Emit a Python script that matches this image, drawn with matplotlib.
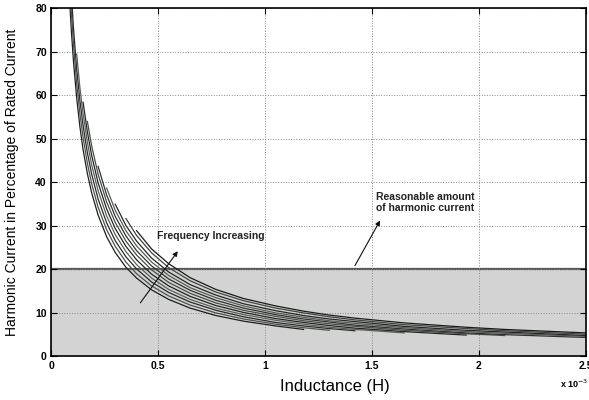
import numpy as np
import matplotlib
matplotlib.use("Agg")
import matplotlib.pyplot as plt
from matplotlib.ticker import FuncFormatter

plt.rcParams['font.family'] = ['Liberation Sans', 'DejaVu Sans']

# inductance grid (in mH, plotted as H)
L_mH = [0.088, 0.095, 0.105, 0.12, 0.135, 0.15, 0.17, 0.19, 0.22, 0.26, 0.30,
        0.35, 0.40, 0.47, 0.55, 0.65, 0.77, 0.9, 1.05, 1.18, 1.30, 1.42, 1.65,
        1.94, 2.12, 2.5]

# harmonic current (% of rated), one list per frequency
curve_1 = [80.9, 74.9, 67.8, 59.4, 52.8, 47.5, 42.0, 37.6, 32.5, 27.5, 23.9,
           20.5, 18.0, 15.3, 13.1, 11.1, 9.4, 8.1, 7.0, 6.2]
curve_2 = [85.5, 79.2, 71.7, 62.7, 55.8, 50.3, 44.4, 39.7, 34.3, 29.1, 25.3,
           21.7, 19.0, 16.2, 13.9, 11.8, 10.0, 8.6, 7.4, 6.6, 6.0]
curve_3 = [83.5, 75.5, 66.1, 58.8, 53.0, 46.8, 41.9, 36.2, 30.7, 26.6, 22.9,
           20.1, 17.1, 14.7, 12.5, 10.6, 9.1, 7.8, 7.0, 6.4, 5.9]
curve_4 = [69.5, 61.8, 55.7, 49.2, 44.0, 38.1, 32.3, 28.0, 24.1, 21.1, 18.0,
           15.4, 13.1, 11.1, 9.6, 8.3, 7.4, 6.7, 6.2, 5.4]
curve_5 = [58.4, 51.6, 46.2, 39.9, 33.9, 29.4, 25.3, 22.2, 18.9, 16.2, 13.8,
           11.7, 10.1, 8.7, 7.8, 7.1, 6.5, 5.7, 4.9]
curve_6 = [54.0, 48.4, 41.9, 35.5, 30.8, 26.5, 23.3, 19.9, 17.0, 14.5, 12.3,
           10.6, 9.2, 8.2, 7.5, 6.9, 6.0, 5.2, 4.8]
curve_7 = [43.7, 37.1, 32.2, 27.7, 24.3, 20.8, 17.8, 15.2, 12.9, 11.1, 9.6,
           8.6, 7.9, 7.2, 6.3, 5.4, 5.0, 4.35]
curve_8 = [38.7, 33.6, 28.9, 25.4, 21.7, 18.6, 15.8, 13.5, 11.6, 10.0, 9.0,
           8.2, 7.6, 6.6, 5.7, 5.3, 4.6]
curve_9 = [35.0, 30.1, 26.5, 22.6, 19.4, 16.5, 14.1, 12.1, 10.5, 9.4, 8.6,
           8.0, 6.9, 6.0, 5.6, 4.8]
curve_10 = [31.7, 27.8, 23.8, 20.4, 17.4, 14.8, 12.8, 11.1, 10.0, 9.1, 8.4,
            7.3, 6.4, 5.9, 5.1]
curve_11 = [28.9, 24.7, 21.3, 18.1, 15.4, 13.3, 11.6, 10.4, 9.5, 8.8, 7.7,
            6.7, 6.2, 5.4]

curves = [curve_1, curve_2, curve_3, curve_4, curve_5, curve_6, curve_7,
          curve_8, curve_9, curve_10, curve_11]
# index in L_mH where each curve begins
curve_start = [0, 0, 1, 3, 5, 6, 8, 9, 10, 11, 12]

line_colors = ['#1e1e1e', '#4b524b', '#2a2a2a', '#5a605a', '#222222',
               '#474d47', '#303030', '#555b55', '#262626', '#3f453f', '#1a1a1a']

fig = plt.figure(figsize=(5.89, 4.0), dpi=100)
ax = fig.add_axes([0.0866, 0.109, 0.9083, 0.87])

# acceptable zone
ax.axhspan(0, 20, facecolor='#d3d3d3', edgecolor='none', zorder=0.5)
ax.axhline(20, color='#555555', lw=1.6, zorder=0.6)

L_arr = np.array(L_mH) * 1e-3
for vals, s, c in zip(curves, curve_start, line_colors):
    ax.plot(L_arr[s:s + len(vals)], vals, color=c, lw=0.9, zorder=2)

ax.set_xlim(0, 2.5e-3)
ax.set_ylim(0, 80)
ax.set_xticks(np.arange(0, 2.51e-3, 0.5e-3))
ax.set_yticks(range(0, 81, 10))
ax.xaxis.set_major_formatter(FuncFormatter(lambda v, p: '%g' % round(v * 1e3, 3)))

ax.grid(True, linestyle=':', color='#8a8a8a', lw=0.7)
ax.tick_params(direction='in', length=4, width=0.8, top=True, right=True,
               labelsize=7.5, pad=3)
for lab in ax.get_xticklabels() + ax.get_yticklabels():
    lab.set_fontweight('bold')
for sp in ax.spines.values():
    sp.set_linewidth(1.2)

ax.set_xlabel('Inductance (H)', fontsize=12)
ax.xaxis.set_label_coords(0.53, -0.065)
ax.set_ylabel('Harmonic Current in Percentage of Rated Current', fontsize=10)
ax.yaxis.set_label_coords(-0.06, 0.5)
fig.text(0.951, 0.04, 'x 10$^{-3}$', fontsize=6.5, fontweight='bold',
         ha='left', va='center')

ax.annotate('', xy=(0.60e-3, 24.7), xytext=(0.41e-3, 11.8),
            arrowprops=dict(arrowstyle='-|>', color='#111111', lw=0.8,
                            mutation_scale=7))
ax.text(0.495e-3, 27.7, 'Frequency Increasing', fontsize=7.5,
        fontweight='bold', color='#222222', va='center', ha='left')

ax.annotate('', xy=(1.544e-3, 31.8), xytext=(1.414e-3, 20.3),
            arrowprops=dict(arrowstyle='-|>', color='#111111', lw=0.8,
                            mutation_scale=7))
ax.text(1.519e-3, 35.3, 'Reasonable amount\nof harmonic current', fontsize=7.5,
        fontweight='bold', color='#222222', va='center', ha='left',
        linespacing=1.15)

fig.savefig('out.png', dpi=100)
